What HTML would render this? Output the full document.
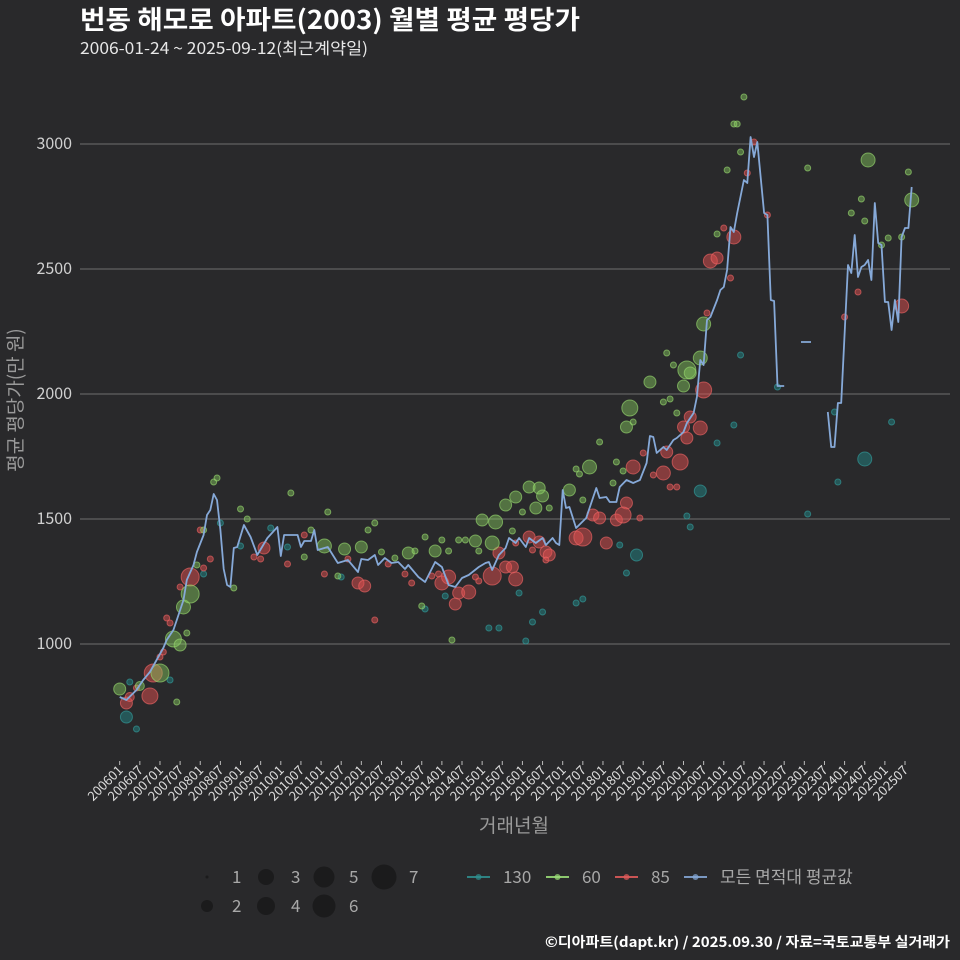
<!DOCTYPE html>
<html><head><meta charset="utf-8">
<style>
html,body{margin:0;padding:0;background:#29292b;}
svg{display:block;font-family:"Noto Sans CJK KR","Liberation Sans",sans-serif;}
</style></head>
<body>
<svg id="chart" width="960" height="960" viewBox="0 0 960 960">
<rect x="0" y="0" width="960" height="960" fill="#29292b"/>
<text x="80" y="29" fill="#ffffff" font-size="26" font-weight="bold" textLength="500" lengthAdjust="spacingAndGlyphs">번동 해모로 아파트(2003) 월별 평균 평당가</text>
<text x="80" y="54" fill="#e8e8e8" font-size="16" textLength="288" lengthAdjust="spacingAndGlyphs">2006-01-24 ~ 2025-09-12(최근계약일)</text>
<g id="grid"></g>
<g id="yticks"></g>
<g id="xticks"></g>
<g id="points"></g>
<g id="line"></g>
<text x="0" y="0" transform="translate(22,400) rotate(-90)" text-anchor="middle" fill="#9a9a9a" font-size="19">평균 평당가(만 원)</text>
<text x="514" y="832" text-anchor="middle" fill="#9a9a9a" font-size="19">거래년월</text>
<g id="legend"></g>
<text x="545" y="947" fill="#ffffff" font-size="14" font-weight="bold" textLength="405" lengthAdjust="spacingAndGlyphs">©디아파트(dapt.kr) / 2025.09.30 / 자료=국토교통부 실거래가</text>
</svg>
<script>
// ---- data ----
const yTicks = [1000, 1500, 2000, 2500, 3000];
const xTickLabels = [];
for (let y = 2006; y <= 2025; y++) { xTickLabels.push(y + "01"); xTickLabels.push(y + "07"); }

// average line: month index from 2006-01, value (null = gap)
const lineMonths = [0,2,5,7,9,11,13,14,16,17,19,20,22,23,25,26,27,28,29,30,31,32,33,34,35,37,39,41,44,47,48,49,53,54,55,57,58,59,62,65,68,71,72,74,76,77,79,81,83,85,86,89,91,94,96,98,100,102,104,107,109,110,111,113,115,116,118,119,121,122,124,126,127,129,130,131,132,133,134,136,139,142,143,145,146,148,149,151,153,155,157,158,159,160,162,163,165,166,168,169,171,172,173,174,175,176,178,179,180,181,182,183,184,186,187,188,189,190,192,193,194,195,196,198,200,203,206,208,211,212,213,214,215,217,218,219,220,221,222,223,224,225,226,227,228,229,230,231,232,233,234,235,236];
const lineValues = [788,776,816,856,888,936,984,1016,1056,1096,1176,1256,1316,1368,1436,1516,1536,1600,1576,1456,1300,1236,1228,1384,1388,1476,1428,1356,1424,1468,1352,1436,1436,1388,1412,1412,1456,1376,1388,1324,1336,1288,1340,1336,1356,1316,1344,1324,1328,1300,1316,1268,1248,1328,1308,1236,1228,1264,1276,1308,1324,1328,1296,1356,1384,1424,1404,1424,1388,1424,1404,1424,1396,1424,1404,1396,1616,1544,1548,1464,1504,1624,1584,1588,1568,1568,1628,1656,1644,1656,1724,1832,1828,1764,1788,1776,1816,1824,1848,1884,1924,1988,2136,2116,2296,2308,2376,2416,2428,2496,2668,2648,2724,2856,2844,3028,2948,3008,2724,2716,2376,2372,2032,2032,null,2208,2208,null,1928,1788,1788,1964,1964,2516,2484,2636,2468,2508,2516,2536,2456,2764,2604,2596,2368,2368,2256,2376,2288,2628,2664,2664,2828];

// scatter: 60㎡
const g60Months = [0,6,12,16,18,19,21,20,17,23,25,28,29,34,36,38,51,62,57,55,61,67,72,65,74,76,78,82,86,88,91,94,96,98,101,103,106,107,108,111,112,115,117,118,120,122,124,125,126,128,134,136,137,140,138,143,147,148,150,151,152,153,158,162,164,163,165,166,168,169,170,173,174,178,181,183,184,185,186,205,218,221,222,223,227,229,233,235,236,90,99];
const g60Values = [820,832,884,1020,996,1148,1200,1044,768,1316,1456,1648,1664,1224,1540,1500,1604,1528,1456,1348,1392,1380,1388,1272,1456,1484,1368,1344,1364,1372,1428,1372,1416,1372,1416,1416,1412,1372,1496,1404,1488,1556,1452,1588,1528,1628,1544,1624,1592,1544,1616,1700,1680,1708,1576,1808,1644,1728,1692,1868,1944,1888,2048,1968,1980,2164,2116,1924,2032,2096,2084,2144,2280,2640,2896,3080,3080,2968,3188,2904,2724,2780,2692,2936,2596,2624,2628,2888,2776,1152,1016];
const g60Counts = [3,2,6,5,3,4,6,1,1,1,1,1,1,1,1,1,1,1,1,1,4,3,3,1,1,1,1,1,3,1,1,3,1,1,1,1,3,1,3,4,4,3,1,3,1,3,3,3,3,1,3,1,1,4,1,1,1,1,1,3,5,1,3,1,1,1,1,1,3,6,3,4,4,1,1,1,1,1,1,1,1,1,1,4,1,1,1,1,4,1,1];

// scatter: 130㎡
const g130Months = [2,5,3,15,25,30,36,45,50,66,91,97,110,113,119,121,123,126,136,138,149,169,170,173,178,183,185,196,205,213,214,222,230,154,151];
const g130Values = [708,660,848,856,1280,1484,1392,1464,1388,1268,1140,1192,1064,1064,1204,1012,1088,1128,1164,1180,1396,1512,1468,1612,1804,1876,2156,2028,1520,1928,1648,1740,1888,1356,1284];
const g130Counts = [3,1,1,1,1,1,1,1,1,1,1,1,1,1,1,1,1,1,1,1,1,1,1,3,1,1,1,1,1,1,1,4,1,3,1];

// scatter: 85㎡
const g85Months = [2,9,10,3,5,13,12,14,15,18,21,25,27,24,43,40,42,50,55,61,71,73,76,68,80,85,87,93,95,96,98,100,101,104,106,107,111,113,115,117,118,118,122,125,127,128,123,127,136,138,141,143,145,148,151,150,155,153,159,156,162,163,164,166,167,168,169,170,173,174,175,176,178,182,183,180,187,189,193,216,220,233];
const g85Values = [764,792,884,788,824,968,948,1104,1084,1228,1268,1304,1340,1456,1384,1348,1340,1320,1436,1280,1244,1232,1096,1340,1320,1280,1244,1272,1280,1244,1268,1160,1204,1208,1268,1252,1272,1364,1308,1308,1260,1404,1428,1408,1368,1356,1376,1336,1424,1428,1516,1504,1404,1496,1564,1516,1504,1708,1676,1764,1684,1768,1628,1628,1728,1868,1824,1908,1864,2016,2324,2532,2544,2464,2628,2664,2884,3008,2716,2308,2408,2352];
const g85Counts = [3,5,6,2,1,1,1,1,1,1,6,1,1,1,3,1,1,1,1,1,3,3,1,1,1,1,1,1,1,4,4,3,3,4,1,1,6,3,3,3,4,1,3,3,3,3,1,1,4,6,3,3,3,3,3,5,1,4,1,1,4,3,1,1,5,3,3,3,4,5,1,4,3,1,4,1,1,1,1,1,1,4];

// ---- scales ----
const X0 = 119.7, XSTEP = 3.356;
function xScale(m) { return X0 + m * XSTEP; }
function yScale(v) { return 644 - (v - 1000) * 0.25; }
function rScale(c) { return [0, 3, 4.5, 6, 7, 8, 9, 10][c]; }

const NS = "http://www.w3.org/2000/svg";
function mk(tag, attrs, parent) {
  const el = document.createElementNS(NS, tag);
  for (const k in attrs) el.setAttribute(k, attrs[k]);
  parent.appendChild(el);
  return el;
}

// grid + y ticks
const grid = document.getElementById('grid');
const yg = document.getElementById('yticks');
yTicks.forEach(v => {
  const ln = mk('line', {x1: 80, x2: 950, y1: yScale(v), y2: yScale(v), stroke: '#6f6f6f', 'stroke-width': 1}, grid);
  
  
  const t = mk('text', {x: 72, y: yScale(v) + 5, 'text-anchor': 'end', fill: '#d0d0d0', 'font-size': 16}, yg);
  t.textContent = v;
  
  
});

// x ticks
const xg = document.getElementById('xticks');
xTickLabels.forEach((lab, i) => {
  const x = xScale(i * 6);
  const tk = mk('line', {x1: x, x2: x, y1: 761, y2: 765, stroke: '#bbbbbb', 'stroke-width': 1}, xg);
  
  
  const t = mk('text', {x: 0, y: 0, transform: 'translate(' + (x + 4) + ',771) rotate(-45)', 'text-anchor': 'end', fill: '#dcdcdc', 'font-size': 13}, xg);
  t.textContent = lab;
  
  
});

// scatter
const pg = document.getElementById('points');
function drawSeries(months, values, counts, fill, stroke, name) {
  months.forEach((m, i) => {
    const c = mk('circle', {cx: xScale(m), cy: yScale(values[i]), r: rScale(counts[i]), fill: fill, stroke: stroke, 'stroke-width': 1}, pg);
    
    
  });
}
drawSeries(g130Months, g130Values, g130Counts, 'rgba(35,125,125,0.55)', 'rgba(50,150,150,0.7)', '130');
drawSeries(g85Months, g85Values, g85Counts, 'rgba(225,80,80,0.5)', 'rgba(235,100,100,0.65)', '85');
drawSeries(g60Months, g60Values, g60Counts, 'rgba(135,205,95,0.45)', 'rgba(150,215,110,0.65)', '60');

// average line
const lg = document.getElementById('line');
let d = '', pen = false;
lineMonths.forEach((m, i) => {
  const v = lineValues[i];
  if (v === null) { pen = false; return; }
  d += (pen ? 'L' : 'M') + xScale(m).toFixed(1) + ',' + yScale(v).toFixed(1);
  pen = true;
});
const path = mk('path', {d: d, fill: 'none', stroke: '#86a9d8', 'stroke-width': 1.8, 'stroke-linejoin': 'round'}, lg);



// legend
const leg = document.getElementById('legend');
const sizeKeys = [[1,207,877,1.5],[2,207,906,6],[3,266,877,8],[4,266,906,9],[5,324,877,10.5],[6,324,906,11.5],[7,384,877,12.5]];
sizeKeys.forEach(k => {
  const c = mk('circle', {cx: k[1], cy: k[2], r: k[3], fill: '#1b1b1c'}, leg);
  
  
  const t = mk('text', {x: k[1] + 25, y: k[2] + 6, fill: '#a8a8a8', 'font-size': 17}, leg);
  t.textContent = k[0];
  
  
});
const colorKeys = [['130', 467, '#2f8f8f'], ['60', 546, '#9bde78'], ['85', 615, '#e05a5a'], ['모든 면적대 평균값', 684, '#86a9d8']];
colorKeys.forEach(k => {
  const l = mk('line', {x1: k[1], x2: k[1] + 23, y1: 877, y2: 877, stroke: k[2], 'stroke-width': 1.8}, leg);
  
  
  const c = mk('circle', {cx: k[1] + 11.5, cy: 877, r: 3, fill: k[2], opacity: 0.7}, leg);
  
  
  const t = mk('text', {x: k[1] + 36, y: 883, fill: '#a8a8a8', 'font-size': 17}, leg);
  t.textContent = k[0];
  
  
});
</script>
</body></html>
